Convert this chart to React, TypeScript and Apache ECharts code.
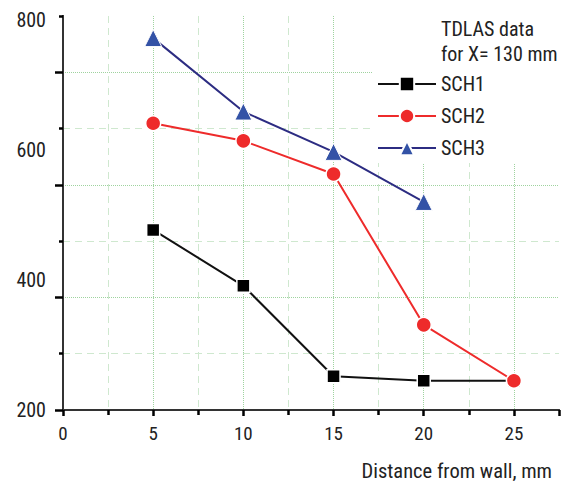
import React, { useEffect, useRef } from 'react';
import * as echarts from 'echarts';

const distances = [5, 10, 15, 20, 25];
const sch1 = [477, 391, 252, 245, 245];
const sch2 = [641, 614, 563, 331, 245];
const sch3 = [772, 659, 597, 520];
const yLabelValues = [200, 400, 600, 800];
const xLabelValues = [0, 5, 10, 15, 20, 25];
const xMinorValues = [2.5, 7.5, 12.5, 17.5, 22.5];
const yGridMajor = [0, 2, 4, 6];
const yGridMinor = [1, 3, 5, 7];
const seriesNames = ['SCH1', 'SCH2', 'SCH3'];
const titleText = 'TDLAS data\nfor X= 130 mm';
const xName = 'Distance from wall, mm';

const FONT = "'Liberation Sans Narrow', 'Arial Narrow', 'Roboto Condensed', 'Liberation Sans', sans-serif";

const pairs = (vals: number[]) => vals.map((v, i) => [distances[i], v]);
const majorGrid = () => ({ color: '#9fd39f', type: 'dotted', width: 1 });
const minorGrid = () => ({ color: '#cfe8cf', type: [7, 5], width: 1 });
const axisLine = () => ({ show: true, lineStyle: { color: '#333', width: 2 } });
const tick = (length: number, width: number, customValues?: number[]) => {
  const t: any = { show: true, length, lineStyle: { color: '#000', width } };
  if (customValues) t.customValues = customValues;
  return t;
};

export default function App() {
  const ref = useRef<HTMLDivElement>(null);
  useEffect(() => {
    if (!ref.current) return;
    const chart = echarts.init(ref.current, undefined, { renderer: 'svg' });
    chart.setOption({
      animation: false,
      textStyle: { fontFamily: FONT },
      title: [
        {
          text: titleText,
          left: 372,
          top: 0,
          padding: [16, 40, 10, 69],
          backgroundColor: '#fff',
          z: 10,
          textStyle: { fontSize: 20, lineHeight: 25, fontWeight: 'normal', color: '#222', fontFamily: FONT },
        },
        {
          text: xName,
          right: 27,
          top: 459,
          padding: 0,
          textStyle: { fontSize: 20.5, lineHeight: 24, fontWeight: 'normal', color: '#222', fontFamily: FONT },
        },
      ],
      legend: {
        orient: 'vertical',
        left: 372,
        top: 62,
        padding: [12, 94, 5, 5],
        backgroundColor: '#fff',
        itemWidth: 58,
        itemHeight: 18,
        itemGap: 12,
        z: 10,
        textStyle: { fontSize: 20, color: '#222', fontFamily: FONT },
        data: seriesNames,
      },
      grid: { left: 63, right: 20, top: 16, bottom: 72 },
      xAxis: [
        {
          type: 'value',
          min: 0,
          max: 27.5,
          interval: 5,
          axisLine: axisLine(),
          axisTick: tick(6, 2.5),
          axisLabel: { customValues: xLabelValues, fontSize: 19, color: '#222', margin: 14, fontFamily: FONT },
          splitLine: { show: true, showMinLine: false, showMaxLine: false, lineStyle: majorGrid() },
        },
        {
          type: 'value',
          min: 0,
          max: 27.5,
          position: 'bottom',
          axisLine: axisLine(),
          axisTick: tick(5, 2.5, xMinorValues),
          axisLabel: { show: false },
          splitLine: { show: true, lineStyle: minorGrid() },
        },
      ],
      yAxis: [
        {
          type: 'value',
          min: 200,
          max: 806,
          interval: 200,
          position: 'left',
          axisLine: axisLine(),
          axisTick: { show: false },
          axisLabel: { customValues: yLabelValues, fontSize: 20, color: '#222', margin: 17, fontFamily: FONT },
          splitLine: { show: false },
        },
        {
          type: 'value',
          min: 0,
          max: 7,
          position: 'left',
          axisLine: axisLine(),
          axisTick: tick(8, 2.5, yGridMajor),
          axisLabel: { show: false },
          splitLine: { show: true, lineStyle: majorGrid() },
        },
        {
          type: 'value',
          min: 0,
          max: 7,
          position: 'left',
          axisLine: axisLine(),
          axisTick: tick(4, 2.5, yGridMinor),
          axisLabel: { show: false },
          splitLine: { show: true, showMaxLine: false, lineStyle: minorGrid() },
        },
      ],
      series: [
        {
          name: 'SCH1',
          type: 'line',
          data: pairs(sch1),
          symbol: 'rect',
          symbolSize: 13,
          lineStyle: { color: '#111', width: 2 },
          itemStyle: { color: '#000', borderColor: '#fff', borderWidth: 1.5 },
          z: 3,
        },
        {
          name: 'SCH2',
          type: 'line',
          data: pairs(sch2),
          symbol: 'circle',
          symbolSize: 15,
          lineStyle: { color: '#ee2b2b', width: 2 },
          itemStyle: { color: '#ee2b2b', borderColor: '#fff', borderWidth: 1.5 },
          z: 4,
        },
        {
          name: 'SCH3',
          type: 'line',
          data: pairs(sch3),
          symbol: 'triangle',
          symbolSize: 17,
          lineStyle: { color: '#2c2c82', width: 2 },
          itemStyle: { color: '#3352a6', borderColor: '#fff', borderWidth: 1 },
          z: 5,
        },
      ],
    });
    return () => chart.dispose();
  }, []);
  return <div ref={ref} style={{ position: 'fixed', left: 0, top: 0, width: 579, height: 482, background: '#fff' }} />;
}
